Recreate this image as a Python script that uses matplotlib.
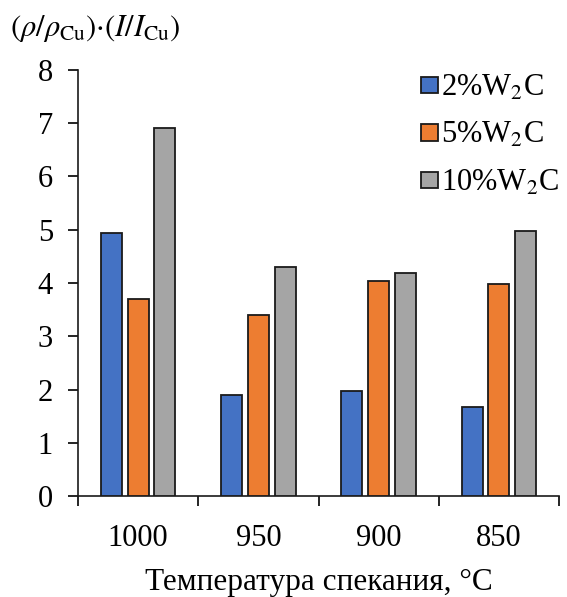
import numpy as np
import matplotlib
matplotlib.use("Agg")
import matplotlib.pyplot as plt
from matplotlib.patches import Patch

categories = ["1000", "950", "900", "850"]
series_names = ["2%W$_2$C", "5%W$_2$C", "10%W$_2$C"]
vals_2 = [4.94, 1.90, 1.98, 1.67]
vals_5 = [3.70, 3.40, 4.04, 3.98]
vals_10 = [6.91, 4.30, 4.19, 4.98]
colors = ["#4472C4", "#ED7D31", "#A5A5A5"]

plt.rcParams['font.family'] = ['Liberation Serif', 'DejaVu Serif']
plt.rcParams['mathtext.fontset'] = 'stix'

fig = plt.figure(figsize=(5.67, 5.97), dpi=100)
ax = fig.add_axes([0.1376, 0.169, 0.9860 - 0.1376, 0.883 - 0.169])

x = np.arange(len(categories))
w = 0.175
off = 0.222
for i, (vals, c, name) in enumerate(zip([vals_2, vals_5, vals_10], colors, series_names)):
    ax.bar(x + (i - 1) * off, vals, width=w, color=c, edgecolor="#1a1a1a",
           linewidth=1.3, label=name, zorder=3)

ax.set_xlim(-0.5, 3.5)
ax.set_ylim(0, 8)
ax.set_yticks(range(0, 9))
ax.tick_params(axis='y', labelsize=22, length=7, width=1.2, direction='out', pad=11)
ax.set_xticks(np.arange(-0.5, 4.0, 1.0))
ax.set_xticklabels([])
ax.set_xticks(x, minor=True)
ax.set_xticklabels(categories, minor=True)
ax.tick_params(axis='x', which='major', length=7, width=1.2, direction='out')
ax.tick_params(axis='x', which='minor', length=0, labelsize=22, pad=20)

for s in ['top', 'right']:
    ax.spines[s].set_visible(False)
for s in ['left', 'bottom']:
    ax.spines[s].set_linewidth(1.2)
    ax.spines[s].set_color('#1a1a1a')

ax.set_xlabel("Температура спекания, °C", fontsize=22.5, labelpad=11)
fig.text(0.018, 0.952, r"$(\rho/\rho_{\mathrm{Cu}}){\cdot}(I/I_{\mathrm{Cu}})$",
         fontsize=22, ha='left', va='center')

handles = [Patch(facecolor=c, edgecolor="#1a1a1a", linewidth=1.3) for c in colors]
leg = ax.legend(handles, series_names, loc='upper right', bbox_to_anchor=(1.025, 1.02),
                frameon=False, fontsize=22, handlelength=0.55, handleheight=0.45,
                handletextpad=0.1, labelspacing=0.6, borderaxespad=0.0)

fig.savefig("out.png", dpi=100)
